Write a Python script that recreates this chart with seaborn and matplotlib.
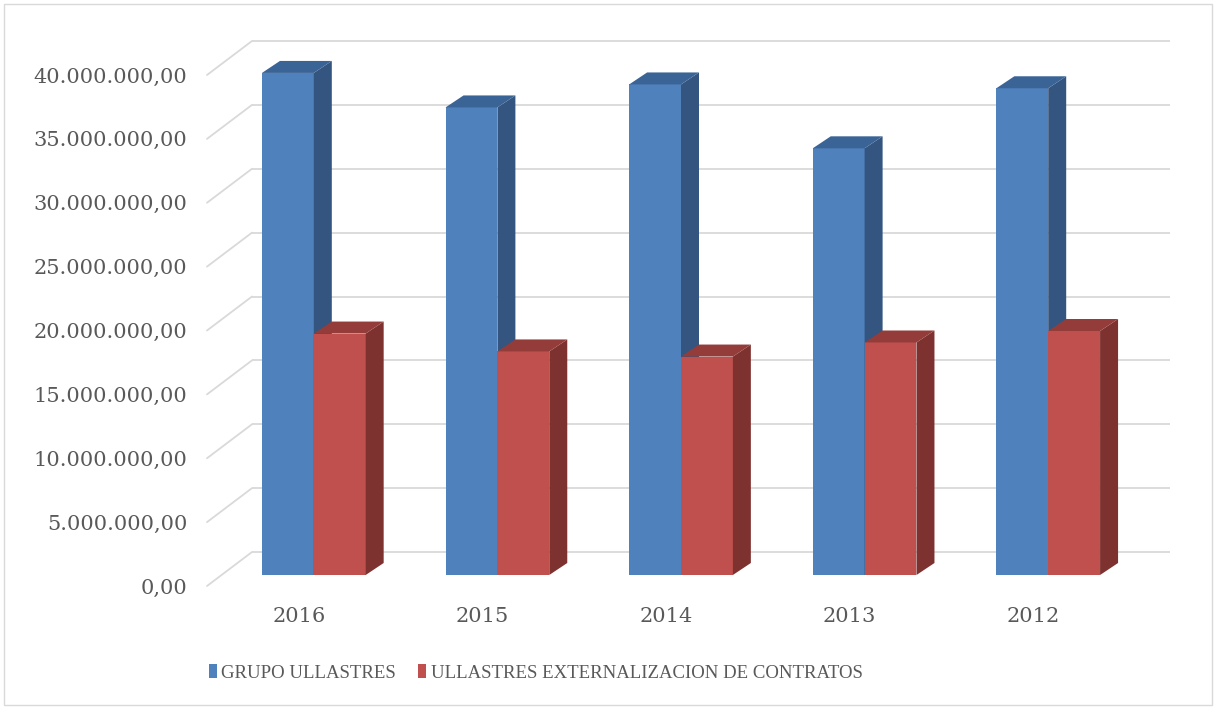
import matplotlib
matplotlib.use("Agg")
import matplotlib.pyplot as plt
import seaborn as sns
import pandas as pd
from matplotlib.patches import Polygon, Rectangle, Patch
from matplotlib.lines import Line2D
from matplotlib.ticker import FuncFormatter

# ---------------------------------------------------------------
# datos
# ---------------------------------------------------------------
years = ["2016", "2015", "2014", "2013", "2012"]
grupo = [39.3e6, 36.6e6, 38.4e6, 33.4e6, 38.1e6]
externalizacion = [18.9e6, 17.5e6, 17.1e6, 18.2e6, 19.1e6]
series_names = ["GRUPO ULLASTRES", "ULLASTRES EXTERNALIZACION DE CONTRATOS"]
y_ticks = [0, 5e6, 10e6, 15e6, 20e6, 25e6, 30e6, 35e6, 40e6]

front_colors = ["#4F81BD", "#C0504D"]
side_colors = ["#34557F", "#7E3230"]
top_colors = ["#3B6496", "#943C3A"]
grid_color = "#D9D9D9"
text_color = "#595959"

df = pd.DataFrame({
    "year": years * 2,
    "value": grupo + externalizacion,
    "serie": [series_names[0]] * len(years) + [series_names[1]] * len(years),
})

sns.set_style("white")
plt.rcParams["font.family"] = ["DejaVu Serif"]

W, H = 1217, 708
fig = plt.figure(figsize=(W / 100, H / 100), dpi=100)
PLANE_W = 918
DX, DY = 18, 12  # profundidad de las barras (px)


def plane_axes(left, y0, ytop, z):
    # ejes en píxeles (origen arriba) -> fracción de figura
    ax = fig.add_axes([left / W, (H - y0) / H, PLANE_W / W, (y0 - ytop) / H], zorder=z)
    ax.set_xlim(-0.5, len(years) - 0.5)
    ax.set_ylim(0, 40e6)
    ax.patch.set_alpha(0)
    for s in ax.spines.values():
        s.set_visible(False)
    return ax


ax_back = plane_axes(252, 552, 41, 0)    # pared del fondo
ax_bar = plane_axes(222, 575, 64, 1)     # plano de las barras
ax_front = plane_axes(207, 586, 75, 2)   # borde frontal (etiquetas)

# ---- rejilla 3D: líneas de fondo + diagonales del lateral izquierdo
ax_back.set_xticks([])
ax_back.set_yticks([])
ax_back.hlines(y_ticks, -0.5, len(years) - 0.5, color=grid_color, lw=1.3, clip_on=False)
to_fig = fig.transFigure.inverted()
for v in y_ticks:
    p0 = to_fig.transform(ax_front.transData.transform((-0.5, v)))
    p1 = to_fig.transform(ax_back.transData.transform((-0.5, v)))
    fig.add_artist(Line2D([p0[0], p1[0]], [p0[1], p1[1]], color=grid_color, lw=1.3,
                          transform=fig.transFigure, zorder=0.5))

# ---- barras (cara frontal) con seaborn
sns.barplot(data=df, x="year", y="value", hue="serie", order=years,
            hue_order=series_names, palette=front_colors, width=0.565,
            saturation=1, linewidth=0, legend=False, ax=ax_bar)
ax_bar.set_xlim(-0.5, len(years) - 0.5)
ax_bar.set_ylim(0, 40e6)
ax_bar.set_xticks([])
ax_bar.set_yticks([])
ax_bar.set_xlabel("")
ax_bar.set_ylabel("")

# caras lateral y superior a partir de cada barra dibujada
for i, cont in enumerate(ax_bar.containers):
    for bar in cont:
        bar.set_zorder(2 + 0.2 * i)
        x0, x1 = bar.get_x(), bar.get_x() + bar.get_width()
        X0, Y0 = ax_bar.transData.transform((x0, 0))
        X1, Y1 = ax_bar.transData.transform((x1, bar.get_height()))
        side = [(X1, Y0), (X1 + DX, Y0 + DY), (X1 + DX, Y1 + DY), (X1, Y1)]
        top = [(X0, Y1), (X1, Y1), (X1 + DX, Y1 + DY), (X0 + DX, Y1 + DY)]
        for pts, col in ((side, side_colors[i]), (top, top_colors[i])):
            ax_bar.add_patch(Polygon(to_fig.transform(pts), closed=True, facecolor=col,
                                     edgecolor="none", transform=fig.transFigure,
                                     clip_on=False, zorder=2.1 + 0.2 * i))

# ---- etiquetas de ejes en el borde frontal
ax_front.set_xticks(range(len(years)))
ax_front.set_xticklabels(years)
ax_front.set_yticks(y_ticks)
ax_front.yaxis.set_major_formatter(FuncFormatter(
    lambda v, p: f"{v:,.2f}".replace(",", "X").replace(".", ",").replace("X", ".")))
ax_front.tick_params(axis="both", length=0, labelsize=15, labelcolor=text_color)
ax_front.tick_params(axis="x", pad=15)
ax_front.tick_params(axis="y", pad=14)

# ---- leyenda
handles = [Patch(facecolor=c, edgecolor="none") for c in front_colors]
fig.legend(handles, series_names, loc="center left", bbox_to_anchor=(209 / W, (H - 673) / H),
           ncol=2, frameon=False, labelcolor=text_color,
           prop={"family": "Liberation Serif", "size": 13.5},
           handlelength=0.4, handleheight=0.7, handletextpad=0.25,
           columnspacing=1.2, borderpad=0, borderaxespad=0)

# marco exterior del gráfico
fig.add_artist(Rectangle((4 / W, 3 / H), 1208 / W, 701 / H, transform=fig.transFigure,
                         fill=False, edgecolor=grid_color, lw=1))

fig.savefig("out.png", dpi=100, facecolor="white")
